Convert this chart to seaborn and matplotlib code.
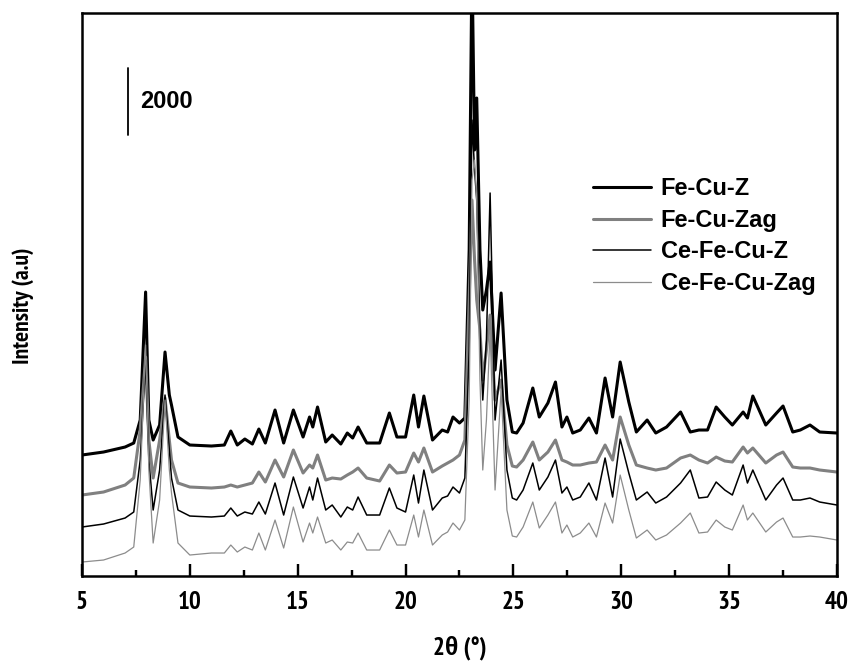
import matplotlib
matplotlib.use("Agg")
import matplotlib.pyplot as plt
import pandas as pd
import seaborn as sns

# Diffraction angle (degrees 2-theta) of each sampled point
two_theta = [
    5.0, 6.0, 7.0, 7.4, 7.7, 7.95, 8.1, 8.3, 8.6, 8.85, 9.05, 9.15, 9.45,
    10.0, 11.0, 11.6, 11.9, 12.2, 12.55, 12.9, 13.2, 13.5, 13.95, 14.35,
    14.8, 15.25, 15.55, 15.7, 15.92, 16.3, 16.6, 17.0, 17.3, 17.55, 17.8,
    18.2, 18.8, 19.25, 19.6, 20.0, 20.38, 20.6, 20.85, 21.25, 21.7, 21.95,
    22.2, 22.5, 22.75, 22.95, 23.08, 23.2, 23.3, 23.45, 23.58, 23.75, 23.92,
    24.15, 24.43, 24.7, 24.95, 25.15, 25.45, 25.9, 26.2, 26.6, 26.95, 27.25,
    27.48, 27.75, 28.1, 28.5, 28.85, 29.25, 29.6, 29.95, 30.35, 30.7, 31.2,
    31.6, 32.1, 32.75, 33.2, 33.6, 34.0, 34.4, 34.8, 35.15, 35.65, 35.85,
    36.1, 36.7, 37.2, 37.5, 37.95, 38.3, 38.75, 39.2, 40.0,
]

# Intensities (counts, patterns stacked with their vertical offsets)
fe_cu_z = [
    3630, 3720, 3870, 3990, 4680, 8520, 4680, 4080, 4530, 6720, 5430, 5130, 4170,
    3930, 3900, 3930, 4350, 3930, 4110, 3960, 4410, 3990, 4980, 3990,
    4980, 4170, 4770, 4470, 5070, 4020, 4230, 3960, 4290, 4140, 4470,
    3990, 3990, 4890, 4170, 4170, 5430, 4470, 5400, 4080, 4380, 4320,
    4770, 4590, 4740, 9780, 18480, 12780, 14340, 9780, 7980, 8580, 9420,
    6180, 8490, 5280, 4320, 4290, 4590, 5640, 4770, 5190, 5820, 4470,
    4770, 4290, 4380, 4740, 4290, 5940, 4770, 6420, 5220, 4320, 4680,
    4290, 4470, 4920, 4320, 4380, 4380, 5070, 4770, 4530, 4920, 4740,
    5400, 4530, 4890, 5100, 4320, 4380, 4530, 4320, 4290,
]
fe_cu_zag = [
    2430, 2520, 2730, 2940, 4380, 6570, 4080, 2940, 4080, 5340, 4080, 3480, 2790,
    2670, 2640, 2670, 2730, 2670, 2730, 2790, 3120, 2820, 3480, 2970,
    3780, 3090, 3330, 3240, 3630, 2880, 2940, 2910, 3030, 3120, 3240,
    2940, 2850, 3330, 3090, 3120, 3690, 3420, 3840, 3120, 3300, 3390,
    3480, 3630, 4080, 8280, 11280, 9480, 8280, 7380, 5880, 6780, 7830,
    5280, 5880, 3930, 3300, 3270, 3480, 4020, 3480, 3720, 4080, 3480,
    3420, 3330, 3330, 3390, 3420, 3930, 3480, 4770, 3930, 3330, 3240,
    3180, 3240, 3540, 3630, 3480, 3390, 3570, 3450, 3420, 3870, 3690,
    3840, 3390, 3630, 3720, 3270, 3240, 3240, 3180, 3120,
]
ce_fe_cu_z = [
    1470, 1560, 1740, 1920, 3480, 6480, 3480, 1980, 3180, 5430, 3780, 2940, 1980,
    1800, 1770, 1800, 2040, 1800, 1920, 1860, 2220, 1860, 2790, 1830,
    2970, 2040, 2670, 2280, 2940, 1980, 2130, 1770, 2070, 1980, 2370,
    1830, 1830, 2640, 2040, 1920, 3030, 2190, 3180, 1980, 2340, 2400,
    2670, 2490, 2940, 6780, 13680, 12180, 11280, 7380, 5280, 7080, 11490,
    4680, 6480, 3180, 2340, 2280, 2580, 3390, 2580, 2970, 3480, 2490,
    2670, 2280, 2370, 2790, 2280, 3540, 2370, 4110, 3090, 2280, 2520,
    2190, 2370, 2790, 3180, 2340, 2370, 2820, 2580, 2430, 3330, 2790,
    3180, 2280, 2730, 2940, 2280, 2280, 2340, 2220, 2130,
]
ce_fe_cu_zag = [
    420, 480, 690, 870, 2880, 6930, 3180, 990, 2280, 5280, 3180, 2490, 990,
    630, 690, 690, 930, 720, 870, 780, 1290, 780, 1680, 840,
    2070, 1020, 1590, 1290, 1770, 990, 1080, 780, 1020, 990, 1290,
    780, 780, 1380, 930, 930, 1830, 1170, 1980, 930, 1230, 1320,
    1590, 1380, 1680, 5280, 11880, 12480, 11280, 5880, 3180, 4680, 7380,
    2580, 5580, 1980, 1200, 1170, 1470, 2220, 1440, 1830, 2220, 1290,
    1530, 1170, 1290, 1590, 1170, 2190, 1590, 3030, 1980, 1140, 1380,
    1080, 1230, 1590, 1890, 1290, 1320, 1680, 1470, 1380, 2130, 1680,
    1890, 1320, 1620, 1740, 1170, 1170, 1200, 1170, 1080,
]

series_names = ["Fe-Cu-Z", "Fe-Cu-Zag", "Ce-Fe-Cu-Z", "Ce-Fe-Cu-Zag"]
series_values = [fe_cu_z, fe_cu_zag, ce_fe_cu_z, ce_fe_cu_zag]
x_ticks = [5, 10, 15, 20, 25, 30, 35, 40]
x_minor_ticks = [7.5, 12.5, 17.5, 22.5, 27.5, 32.5, 37.5]
scale_bar_counts = 2000

sns.set_theme(style="ticks", rc={"xtick.direction": "in", "xtick.bottom": True,
                                 "xtick.top": False, "xtick.major.size": 8.5,
                                 "xtick.minor.size": 4.3, "xtick.major.width": 1.6,
                                 "xtick.minor.width": 1.6, "xtick.minor.visible": True})
plt.rcParams["font.family"] = ["Liberation Sans", "DejaVu Sans"]
plt.rcParams.update({"text.color": "black", "axes.labelcolor": "black",
                     "xtick.color": "black", "ytick.color": "black"})
narrow = ["PT Sans Narrow", "Liberation Sans", "DejaVu Sans"]

df = pd.DataFrame({"two_theta": two_theta})
for name, vals in zip(series_names, series_values):
    df[name] = vals

fig = plt.figure(figsize=(8.53, 6.64), dpi=100)
ax = fig.add_axes([0.0961, 0.1325, 0.8851, 0.8479])

line_styles = [("#000000", 2.2), ("#808080", 2.2), ("#000000", 1.1), ("#8c8c8c", 0.9)]
for name, (color, lw) in zip(series_names, line_styles):
    sns.lineplot(data=df, x="two_theta", y=name, ax=ax, color=color,
                 linewidth=lw, label=name, sort=True)

ax.set_xlim(5, 40)
ax.set_ylim(0, 16890)
ax.set_xticks(x_ticks)
ax.set_xticks(x_minor_ticks, minor=True)
ax.set_xticklabels([str(t) for t in x_ticks])
ax.set_yticks([])
for lab in ax.get_xticklabels():
    lab.set_family(narrow)
    lab.set_fontweight("bold")
    lab.set_fontsize(18)
    lab.set_color("black")
for sp in ax.spines.values():
    sp.set_visible(True)
    sp.set_linewidth(1.8)
    sp.set_color("black")

ax.set_xlabel("2θ (°)", fontsize=18, fontweight="bold", family=narrow, labelpad=15)
ax.set_ylabel("Intensity (a.u)", fontsize=17, fontweight="bold", family=narrow)
ax.yaxis.set_label_coords(-0.063, 0.48)

# Intensity scale bar
bar_x = 7.13
bar_y0 = 13230
ax.plot([bar_x, bar_x], [bar_y0, bar_y0 + scale_bar_counts], color="black", lw=1.3)
ax.text(7.69, bar_y0 + scale_bar_counts / 2, str(scale_bar_counts), fontsize=17,
        fontweight="bold", ha="left", va="center")

leg = ax.legend(loc="upper left", bbox_to_anchor=(0.677, 0.708), frameon=False,
                borderpad=0, borderaxespad=0, handlelength=2.46, handletextpad=0.4,
                labelspacing=0.36, prop={"weight": "bold", "size": 17})
for t in leg.get_texts():
    t.set_color("black")

# Inward ticks along the bottom axis only
ax.set_axisbelow(False)
ax.tick_params(axis="x", which="major", direction="in", length=8.5, width=1.6,
               pad=11, color="black", bottom=True, top=False)
ax.tick_params(axis="x", which="minor", direction="in", length=4.3, width=1.6,
               color="black", bottom=True, top=False)
# Tick marks also drawn as short segments standing on the axis (in data units)
major_len = 0.021 * 16890
ax.vlines(x_ticks, 0, major_len, colors="black", lw=1.6, zorder=10, clip_on=False)
ax.vlines(x_minor_ticks, 0, major_len / 2, colors="black", lw=1.6, zorder=10,
          clip_on=False)

fig.savefig("out.png", dpi=100, facecolor="white")
